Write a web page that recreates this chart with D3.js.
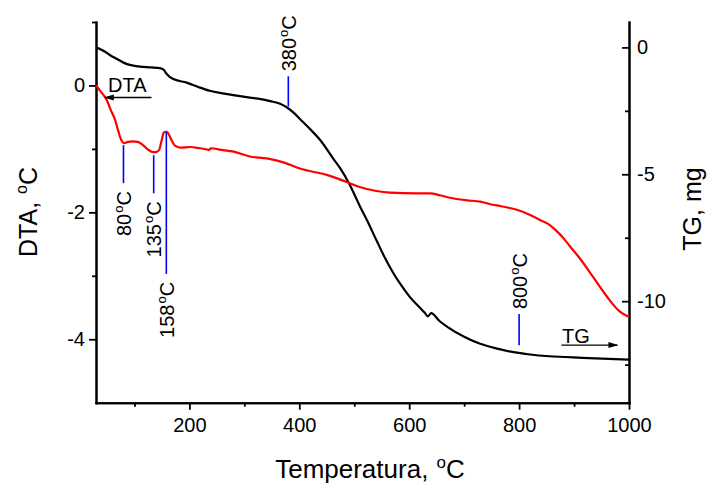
<!DOCTYPE html>
<html>
<head>
<meta charset="utf-8">
<script src="https://cdn.jsdelivr.net/npm/d3@7"></script>
<style>
  html, body { margin: 0; padding: 0; background: #fff; }
  svg { display: block; font-family: "Liberation Sans", Arial, Helvetica, sans-serif; }
</style>
</head>
<body>
<svg id="chart" width="710" height="484"></svg>
<script>
// Thermogravimetric curve (TG, mg) versus temperature (°C)
const tgTemp = [30, 45, 55, 70, 83, 92, 110, 130, 146, 153, 158, 164, 172, 195, 215, 237, 260, 280, 310, 330,
  347, 365, 377, 390, 401, 419, 438, 461, 474, 492, 510, 523, 541, 556, 571, 585, 601, 620, 628, 634,
  640, 655, 670, 700, 728, 760, 790, 820, 855, 915, 1000];
const tgMass = [0.0, -0.15, -0.30, -0.48, -0.63, -0.69, -0.76, -0.79, -0.82, -0.88, -1.03, -1.16, -1.26, -1.39, -1.55, -1.71, -1.81, -1.88, -1.98, -2.04,
  -2.12, -2.22, -2.36, -2.58, -2.82, -3.21, -3.65, -4.36, -4.75, -5.42, -6.25, -6.80, -7.63, -8.30, -8.89, -9.36, -9.83, -10.27, -10.45, -10.60,
  -10.47, -10.78, -11.02, -11.40, -11.67, -11.87, -12.01, -12.10, -12.17, -12.23, -12.30];

// Differential thermal signal (DTA, °C) versus temperature (°C)
const dtaTemp = [30, 39, 49.5, 57, 64.6, 70, 73.7, 77.3, 81, 88, 97, 106, 115.5, 124.6, 133.7, 139, 144.6, 149.6, 152.8, 156,
  159, 163, 167.4, 173.8, 183, 201, 219, 232, 235.6, 239, 261, 279, 310, 341, 374, 401, 450, 488.6, 510, 538,
  565, 614, 638, 656, 674, 705, 729, 752, 765, 796, 820, 838, 856, 869, 880, 892, 910, 934, 960, 984, 1000];
const dtaSignal = [0.0, -0.10, -0.23, -0.39, -0.54, -0.70, -0.81, -0.88, -0.91, -0.89, -0.88, -0.89, -0.94, -1.01, -1.05, -1.05, -1.02, -0.86, -0.75, -0.73,
  -0.73, -0.78, -0.86, -0.95, -0.98, -0.97, -0.99, -1.01, -1.02, -0.99, -1.02, -1.04, -1.12, -1.15, -1.22, -1.31, -1.41, -1.53, -1.60, -1.66,
  -1.69, -1.70, -1.70, -1.73, -1.77, -1.81, -1.83, -1.88, -1.90, -1.96, -2.04, -2.12, -2.20, -2.30, -2.40, -2.53, -2.72, -3.01, -3.33, -3.57, -3.65];

// Axis ticks
const xTicks = [200, 400, 600, 800, 1000];
const xMinorTicks = [100, 300, 500, 700, 900];
const dtaTicks = [0, -2, -4];
const dtaMinorTicks = [1, -1, -3];
const tgTicks = [0, -5, -10];
const tgMinorTicks = [-2.5, -7.5, -12.5];

// Thermal events: marker temperature, which curve's scale the marker spans, and its extent
const eventTemps = [80, 135, 158, 380, 800];
const eventScale = ["DTA", "DTA", "DTA", "TG", "TG"];
const eventFrom = [-0.94, -1.10, -0.73, -1.14, -10.51];
const eventTo = [-1.54, -1.70, -2.97, -2.33, -11.74];
const eventLabelSide = ["below", "below", "below", "above", "above"];

// Curve tags with arrows pointing to their axis
const tagNames = ["DTA", "TG"];
const tagScale = ["DTA", "TG"];
const tagTemp = [52, 878];
const tagValue = [-0.11, -11.63];
const tagArrowFrom = [131, 877];
const tagArrowTo = [46, 979];
const tagArrowValue = [-0.19, -11.73];

const svg = d3.select("#chart");
const plotLeft = 96, plotRight = 629, plotTop = 22, plotBottom = 402.7;

const x = d3.scaleLinear().domain([30, 1000]).range([plotLeft, plotRight]);
const yDta = d3.scaleLinear().domain([-5, 1]).range([plotBottom, plotTop]);
const yTg = d3.scaleLinear().domain([-14, 1]).range([plotBottom, plotTop]);
const scaleFor = name => name === "DTA" ? yDta : yTg;
const plain = d => String(d);

svg.append("defs").append("marker")
  .attr("id", "arrowhead")
  .attr("markerUnits", "userSpaceOnUse")
  .attr("viewBox", "0 -4 10 8")
  .attr("refX", 9).attr("refY", 0)
  .attr("markerWidth", 10).attr("markerHeight", 8)
  .attr("orient", "auto")
  .append("path").attr("d", "M0,-3L10,0L0,3Z").attr("fill", "#000");

// Axes
function styleAxis(g, fontSize) {
  g.attr("font-family", null).attr("font-size", fontSize);
  g.selectAll("path.domain").attr("stroke", "#000").attr("stroke-width", 2).attr("stroke-linecap", "square");
  g.selectAll(".tick line").attr("stroke", "#000").attr("stroke-width", 1.8);
  g.selectAll(".tick text").attr("fill", "#000");
}

svg.append("g").attr("transform", `translate(0,${plotBottom})`)
  .call(d3.axisBottom(x).tickValues(xMinorTicks).tickSize(4).tickSizeOuter(0).tickFormat(""))
  .call(g => styleAxis(g, 20));
svg.append("g").attr("transform", `translate(0,${plotBottom})`)
  .call(d3.axisBottom(x).tickValues(xTicks).tickSize(7).tickSizeOuter(0).tickPadding(8).tickFormat(plain))
  .call(g => styleAxis(g, 20));

svg.append("g").attr("transform", `translate(${plotLeft},0)`)
  .call(d3.axisLeft(yDta).tickValues(dtaMinorTicks).tickSize(4).tickSizeOuter(0).tickFormat(""))
  .call(g => styleAxis(g, 20));
svg.append("g").attr("transform", `translate(${plotLeft},0)`)
  .call(d3.axisLeft(yDta).tickValues(dtaTicks).tickSize(7).tickSizeOuter(0).tickPadding(4).tickFormat(plain))
  .call(g => styleAxis(g, 20));

svg.append("g").attr("transform", `translate(${plotRight},0)`)
  .call(d3.axisRight(yTg).tickValues(tgMinorTicks).tickSize(-4).tickSizeOuter(0).tickFormat(""))
  .call(g => styleAxis(g, 20));
svg.append("g").attr("transform", `translate(${plotRight},0)`)
  .call(d3.axisRight(yTg).tickValues(tgTicks).tickSize(-7).tickSizeOuter(0).tickPadding(8).tickFormat(plain))
  .call(g => styleAxis(g, 20));

// Curves
const tgLine = d3.line().x(i => x(tgTemp[i])).y(i => yTg(tgMass[i])).curve(d3.curveMonotoneX);
const dtaLine = d3.line().x(i => x(dtaTemp[i])).y(i => yDta(dtaSignal[i])).curve(d3.curveMonotoneX);

svg.append("path").attr("d", tgLine(d3.range(tgTemp.length)))
  .attr("fill", "none").attr("stroke", "#000").attr("stroke-width", 2.2).attr("stroke-linejoin", "round");
svg.append("path").attr("d", dtaLine(d3.range(dtaTemp.length)))
  .attr("fill", "none").attr("stroke", "#ff0000").attr("stroke-width", 2.2).attr("stroke-linejoin", "round");

// Degree label with a raised small "o"
function degreeText(sel, prefix, big, small, rise, gap) {
  sel.append("tspan").text(prefix);
  sel.append("tspan").attr("font-size", small).attr("dx", gap).attr("dy", -rise).text("o");
  sel.append("tspan").attr("font-size", big).attr("dy", rise).text("C");
}

// Thermal event markers
eventTemps.forEach((t, i) => {
  const ys = scaleFor(eventScale[i]);
  const xp = x(t);
  const y1 = ys(eventFrom[i]), y2 = ys(eventTo[i]);
  svg.append("line").attr("x1", xp).attr("x2", xp).attr("y1", y1).attr("y2", y2)
    .attr("stroke", "#0000ff").attr("stroke-width", 1.6);
  const below = eventLabelSide[i] === "below";
  const ly = below ? Math.max(y1, y2) + 8 : Math.min(y1, y2) - 5;
  const lx = xp + 7.5;
  const txt = svg.append("text")
    .attr("transform", `translate(${lx},${ly}) rotate(-90)`)
    .attr("text-anchor", below ? "end" : "start")
    .attr("font-size", 20).attr("fill", "#000");
  degreeText(txt, String(t), 20, 13, 8, 1);
});

// Curve tags
tagNames.forEach((name, i) => {
  const ys = scaleFor(tagScale[i]);
  svg.append("text").attr("x", x(tagTemp[i])).attr("y", ys(tagValue[i]))
    .attr("font-size", 20).attr("fill", "#000").text(name);
  svg.append("line")
    .attr("x1", x(tagArrowFrom[i])).attr("x2", x(tagArrowTo[i]))
    .attr("y1", ys(tagArrowValue[i])).attr("y2", ys(tagArrowValue[i]))
    .attr("stroke", "#000").attr("stroke-width", 1.4)
    .attr("marker-end", "url(#arrowhead)");
});

// Axis titles
const xTitle = svg.append("text").attr("x", 370).attr("y", 478)
  .attr("text-anchor", "middle").attr("font-size", 26).attr("fill", "#000");
degreeText(xTitle, "Temperatura, ", 26, 17, 10, 1);

const yTitle = svg.append("text").attr("transform", `translate(37,212) rotate(-90)`)
  .attr("text-anchor", "middle").attr("font-size", 25).attr("fill", "#000");
degreeText(yTitle, "DTA, ", 25, 16, 10, 1);

svg.append("text").attr("transform", `translate(701,209) rotate(-90)`)
  .attr("text-anchor", "middle").attr("font-size", 25).attr("fill", "#000").text("TG, mg");
</script>
</body>
</html>
